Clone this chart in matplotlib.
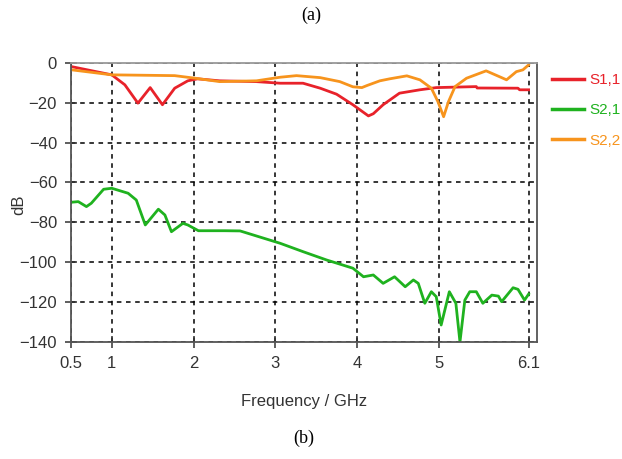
import numpy as np
from matplotlib import pyplot as plt

# S-parameters (frequency in GHz, magnitude in dB)
f_s11 = [0.51, 1.00, 1.16, 1.32, 1.47, 1.62, 1.77, 1.93, 2.05, 2.32, 2.77, 3.06,
         3.34, 3.55, 3.75, 3.95, 4.14, 4.20, 4.32, 4.52, 4.77, 4.97, 5.46, 5.47,
         5.97, 5.99, 6.10]
s11 = [-1.9, -6.0, -11.0, -20.2, -12.4, -21.0, -12.7, -9.0, -8.0, -9.0, -9.4, -10.2,
       -10.2, -12.7, -15.7, -21.0, -26.6, -25.5, -21.0, -15.2, -13.5, -12.4, -11.9, -12.6,
       -12.7, -13.5, -13.5]

f_s21 = [0.51, 0.59, 0.69, 0.75, 0.90, 1.00, 1.20, 1.30, 1.41, 1.57, 1.65, 1.73,
         1.87, 1.93, 2.06, 2.38, 2.57, 3.06, 3.34, 3.63, 3.95, 4.08, 4.20, 4.32,
         4.46, 4.59, 4.69, 4.75, 4.83, 4.91, 4.97, 5.03, 5.13, 5.21, 5.26, 5.32,
         5.38, 5.46, 5.54, 5.65, 5.73, 5.77, 5.91, 5.97, 6.05, 6.10]
s21 = [-69.9, -69.6, -72.1, -70.4, -63.4, -62.9, -65.4, -68.8, -81.3, -73.4, -76.3, -84.7,
       -80.5, -81.3, -84.2, -84.2, -84.3, -90.5, -94.7, -98.9, -103.0, -107.3, -106.4, -110.6,
       -107.3, -112.3, -108.9, -110.6, -120.6, -114.8, -117.3, -131.5, -114.8, -120.6, -140.0, -119.0,
       -114.8, -114.8, -120.6, -116.5, -117.0, -119.8, -112.8, -113.6, -119.0, -116.0]

f_s22 = [0.51, 1.00, 1.77, 2.02, 2.32, 2.77, 3.06, 3.26, 3.55, 3.79, 3.95, 4.06,
         4.12, 4.28, 4.40, 4.61, 4.77, 4.91, 4.99, 5.06, 5.12, 5.20, 5.34, 5.58,
         5.77, 5.83, 5.95, 6.03, 6.10]
s22 = [-3.5, -6.0, -6.4, -7.7, -9.4, -9.0, -7.2, -6.4, -7.4, -9.4, -12.0, -12.4,
       -11.4, -9.0, -8.0, -6.5, -8.5, -12.7, -19.4, -27.0, -19.4, -11.9, -7.7, -4.0,
       -7.4, -8.5, -4.4, -3.5, -1.0]

xticks = [0.5, 1, 2, 3, 4, 5, 6.1]
yticks = [0, -20, -40, -60, -80, -100, -120, -140]

plt.rcParams['font.family'] = ['Liberation Sans', 'DejaVu Sans']

fig = plt.figure(figsize=(6.22, 4.59), dpi=100)
ax = fig.add_axes([0.114, 0.255, 0.749, 0.608])

ax.plot(f_s11, s11, color="#e8222a", lw=2.0, label="S1,1")
ax.plot(f_s21, s21, color="#1fb21f", lw=2.0, label="S2,1")
ax.plot(f_s22, s22, color="#f7941d", lw=2.0, label="S2,2")

ax.set_xlim(0.5, 6.2)
ax.set_ylim(-140, 0)
ax.set_xticks(xticks)
ax.set_xticklabels([str(t) for t in xticks])
ax.set_yticks(yticks)
ax.tick_params(direction="inout", length=8, width=1.1, colors="#333333",
               labelsize=12, pad=6)
ax.grid(True, color="black", linestyle=(0, (3, 3)), linewidth=1.1)
for name, sp in ax.spines.items():
    sp.set_color("#555555")
    sp.set_linewidth(1.3)
ax.spines["top"].set_color("#999999")

ax.set_xlabel("Frequency / GHz", fontsize=12, color="#333333", labelpad=17)
fig.text(0.03, 0.553, "dB", rotation=90, fontsize=12, color="#333333",
         ha="center", va="center")

leg = ax.legend(loc="upper left", bbox_to_anchor=(0.888, 0.84),
                bbox_transform=fig.transFigure, frameon=False,
                labelcolor="linecolor", fontsize=11, handlelength=2.1,
                handletextpad=0.3, labelspacing=1.05, borderpad=0,
                borderaxespad=0)
for line in leg.get_lines():
    line.set_linewidth(2.5)

fig.text(0.5, 0.967, "(a)", family="Liberation Serif", fontsize=13,
         ha="center", va="center")
fig.text(0.488, 0.045, "(b)", family="Liberation Serif", fontsize=13,
         ha="center", va="center")

plt.savefig("out.png", dpi=100)
